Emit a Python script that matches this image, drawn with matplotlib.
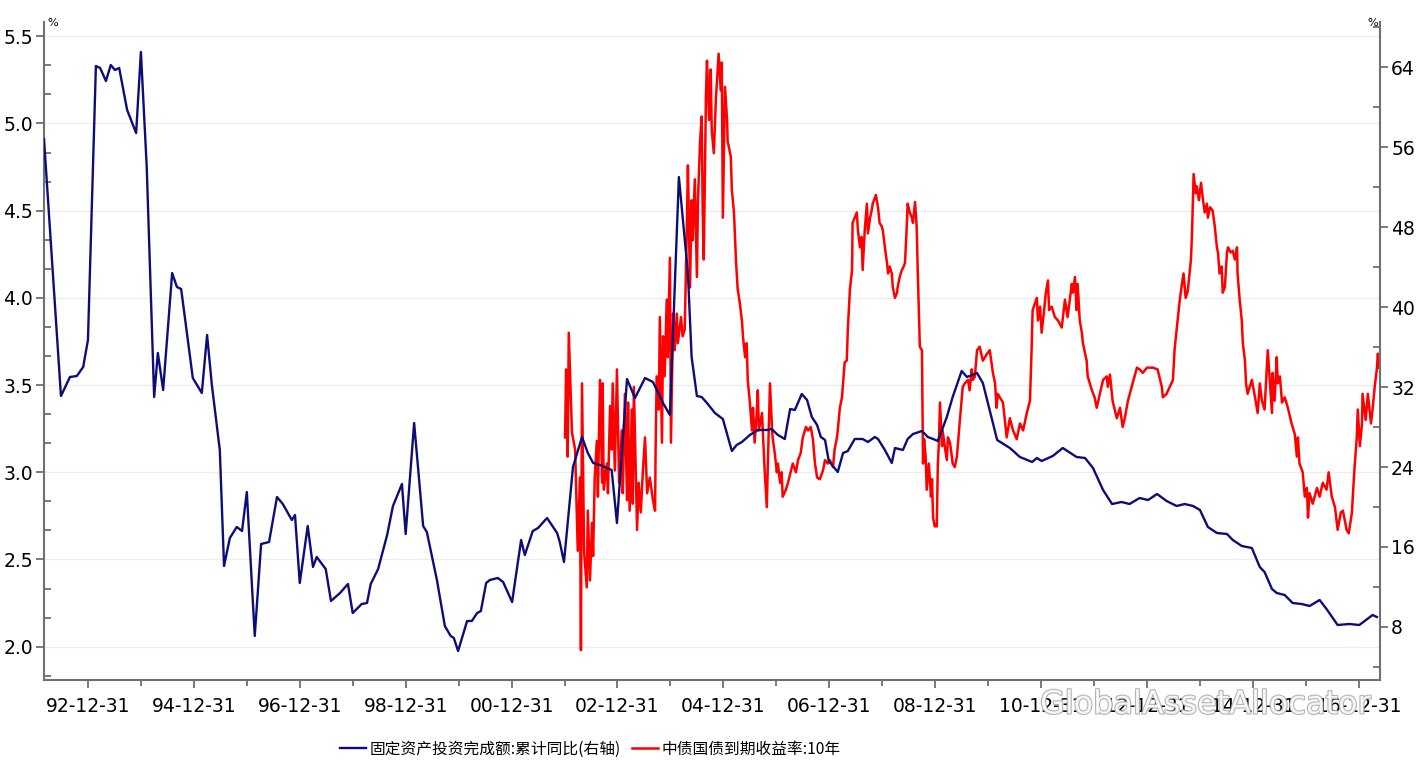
import matplotlib
matplotlib.use("Agg")
import matplotlib.pyplot as plt
from matplotlib.ticker import MultipleLocator, FixedLocator
import matplotlib.patheffects as pe

plt.rcParams['font.family'] = ['DejaVu Sans', 'Noto Sans CJK SC']

# ---- data (decimal years) ----
fai_t = [1992.17, 1992.49, 1992.66, 1992.79, 1992.91, 1993.00, 1993.15, 1993.23, 1993.34, 1993.43,
         1993.51, 1993.59, 1993.74, 1993.91, 1994.00, 1994.11, 1994.25, 1994.32, 1994.42, 1994.59,
         1994.68, 1994.76, 1994.98, 1995.15, 1995.25, 1995.34, 1995.49, 1995.57, 1995.68, 1995.81,
         1995.91, 1996.00, 1996.15, 1996.27, 1996.42, 1996.57, 1996.68, 1996.85, 1996.91, 1997.00,
         1997.15, 1997.25, 1997.32, 1997.49, 1997.59, 1997.76, 1997.91, 1998.00, 1998.17, 1998.27,
         1998.34, 1998.48, 1998.65, 1998.76, 1998.93, 1999.00, 1999.16, 1999.33, 1999.40, 1999.59,
         1999.74, 1999.85, 1999.91, 1999.99, 2000.16, 2000.25, 2000.35, 2000.42, 2000.52, 2000.59,
         2000.74, 2000.84, 2001.01, 2001.18, 2001.25, 2001.40, 2001.50, 2001.67, 2001.86, 2001.91,
         2001.99, 2002.16, 2002.33, 2002.44, 2002.54, 2002.67, 2002.89, 2002.99, 2003.18, 2003.33,
         2003.52, 2003.67, 2003.86, 2003.99, 2004.16, 2004.33, 2004.40, 2004.50, 2004.59, 2004.69,
         2004.84, 2004.99, 2005.16, 2005.25, 2005.35, 2005.50, 2005.65, 2005.82, 2005.91, 2006.03,
         2006.16, 2006.26, 2006.35, 2006.48, 2006.58, 2006.67, 2006.77, 2006.84, 2006.92, 2006.99,
         2007.16, 2007.26, 2007.35, 2007.48, 2007.63, 2007.73, 2007.86, 2007.92, 2008.05, 2008.18,
         2008.24, 2008.39, 2008.48, 2008.58, 2008.75, 2008.86, 2008.96, 2009.05, 2009.22, 2009.33,
         2009.50, 2009.60, 2009.79, 2009.90, 2010.17, 2010.41, 2010.60, 2010.83, 2010.92, 2011.01,
         2011.22, 2011.41, 2011.67, 2011.83, 2011.98, 2012.17, 2012.34, 2012.52, 2012.67, 2012.86,
         2013.02, 2013.19, 2013.37, 2013.56, 2013.71, 2013.87, 2014.00, 2014.15, 2014.32, 2014.51,
         2014.62, 2014.79, 2014.98, 2015.13, 2015.22, 2015.36, 2015.45, 2015.60, 2015.75, 2015.92,
         2016.07, 2016.26, 2016.39, 2016.60, 2016.82, 2017.01, 2017.11, 2017.26, 2017.34]
fai_v = [56.8, 31.1, 33.0, 33.1, 34.0, 36.7, 64.1, 63.9, 62.6, 64.2,
         63.7, 63.9, 59.7, 57.4, 65.5, 54.0, 31.0, 35.4, 31.7, 43.4,
         42.0, 41.8, 32.9, 31.4, 37.2, 32.2, 25.7, 14.1, 16.9, 18.0,
         17.6, 21.5, 7.1, 16.3, 16.5, 21.0, 20.3, 18.7, 19.2, 12.4,
         18.1, 14.0, 15.0, 13.8, 10.6, 11.4, 12.3, 9.4, 10.3, 10.4,
         12.3, 13.8, 17.2, 20.1, 22.3, 17.3, 28.4, 18.1, 17.5, 12.7,
         8.1, 7.1, 6.9, 5.6, 8.6, 8.6, 9.4, 9.6, 12.4, 12.7,
         12.9, 12.5, 10.5, 16.7, 15.2, 17.6, 17.9, 18.9, 17.4, 16.5,
         14.5, 24.0, 27.0, 25.4, 24.4, 24.2, 23.7, 18.4, 32.8, 30.9,
         32.9, 32.5, 30.4, 29.2, 53.0, 43.4, 35.0, 31.1, 31.0, 30.4,
         29.4, 28.8, 25.6, 26.2, 26.5, 27.2, 27.7, 27.7, 27.8, 27.2,
         26.8, 29.8, 29.7, 31.3, 30.7, 29.0, 28.2, 27.0, 26.7, 24.6,
         23.5, 25.4, 25.6, 26.8, 26.8, 26.5, 27.0, 26.8, 25.7, 24.4,
         25.9, 25.7, 26.8, 27.3, 27.6, 27.0, 26.8, 26.6, 29.0, 31.0,
         33.6, 33.0, 33.4, 32.4, 26.7, 25.9, 25.0, 24.5, 24.9, 24.6,
         25.1, 25.9, 25.0, 24.9, 23.9, 21.7, 20.3, 20.5, 20.3, 20.9,
         20.7, 21.3, 20.6, 20.1, 20.3, 20.1, 19.7, 18.0, 17.4, 17.3,
         16.7, 16.1, 15.9, 14.0, 13.5, 11.8, 11.4, 11.2, 10.4, 10.3,
         10.1, 10.7, 9.8, 8.2, 8.3, 8.2, 8.6, 9.2, 9.0]

cgb_t = [2002.01, 2002.03, 2002.06, 2002.08, 2002.14, 2002.20, 2002.25, 2002.29, 2002.31, 2002.33,
         2002.37, 2002.42, 2002.44, 2002.48, 2002.52, 2002.54, 2002.57, 2002.61, 2002.63, 2002.67,
         2002.71, 2002.72, 2002.74, 2002.80, 2002.82, 2002.86, 2002.89, 2002.91, 2002.95, 2002.99,
         2003.03, 2003.08, 2003.10, 2003.14, 2003.18, 2003.20, 2003.23, 2003.27, 2003.29, 2003.31,
         2003.37, 2003.40, 2003.44, 2003.48, 2003.52, 2003.56, 2003.61, 2003.67, 2003.71, 2003.72,
         2003.74, 2003.78, 2003.80, 2003.84, 2003.86, 2003.89, 2003.93, 2003.95, 2003.99, 2004.01,
         2004.05, 2004.08, 2004.12, 2004.14, 2004.20, 2004.23, 2004.27, 2004.31, 2004.33, 2004.37,
         2004.40, 2004.42, 2004.46, 2004.50, 2004.52, 2004.56, 2004.59, 2004.61, 2004.63, 2004.67,
         2004.69, 2004.73, 2004.76, 2004.78, 2004.82, 2004.86, 2004.88, 2004.91, 2004.95, 2004.97,
         2004.99, 2005.03, 2005.07, 2005.08, 2005.14, 2005.16, 2005.20, 2005.24, 2005.27, 2005.31,
         2005.35, 2005.37, 2005.41, 2005.44, 2005.46, 2005.50, 2005.54, 2005.56, 2005.59, 2005.63,
         2005.65, 2005.67, 2005.73, 2005.75, 2005.78, 2005.82, 2005.84, 2005.88, 2005.92, 2005.93,
         2005.97, 2006.01, 2006.03, 2006.07, 2006.10, 2006.12, 2006.18, 2006.22, 2006.27, 2006.31,
         2006.37, 2006.41, 2006.46, 2006.50, 2006.56, 2006.60, 2006.65, 2006.69, 2006.73, 2006.77,
         2006.82, 2006.88, 2006.92, 2006.97, 2007.01, 2007.07, 2007.10, 2007.14, 2007.16, 2007.20,
         2007.24, 2007.26, 2007.29, 2007.33, 2007.35, 2007.39, 2007.43, 2007.44, 2007.48, 2007.52,
         2007.54, 2007.58, 2007.61, 2007.63, 2007.67, 2007.71, 2007.73, 2007.77, 2007.80, 2007.82,
         2007.88, 2007.92, 2007.95, 2007.99, 2008.01, 2008.05, 2008.09, 2008.11, 2008.14, 2008.18,
         2008.20, 2008.24, 2008.28, 2008.29, 2008.33, 2008.37, 2008.39, 2008.43, 2008.46, 2008.48,
         2008.52, 2008.56, 2008.58, 2008.62, 2008.65, 2008.67, 2008.71, 2008.75, 2008.77, 2008.79,
         2008.82, 2008.84, 2008.88, 2008.92, 2008.94, 2008.96, 2008.99, 2009.03, 2009.05, 2009.07,
         2009.09, 2009.13, 2009.14, 2009.18, 2009.22, 2009.24, 2009.28, 2009.33, 2009.37, 2009.41,
         2009.45, 2009.52, 2009.56, 2009.62, 2009.65, 2009.69, 2009.71, 2009.75, 2009.79, 2009.84,
         2009.90, 2009.98, 2010.03, 2010.09, 2010.13, 2010.16, 2010.18, 2010.22, 2010.28, 2010.35,
         2010.41, 2010.47, 2010.54, 2010.60, 2010.66, 2010.73, 2010.79, 2010.82, 2010.84, 2010.92,
         2010.94, 2010.98, 2011.01, 2011.05, 2011.09, 2011.13, 2011.15, 2011.20, 2011.26, 2011.32,
         2011.39, 2011.45, 2011.50, 2011.58, 2011.60, 2011.64, 2011.67, 2011.69, 2011.73, 2011.77,
         2011.79, 2011.86, 2011.88, 2011.96, 2012.01, 2012.05, 2012.11, 2012.17, 2012.24, 2012.26,
         2012.30, 2012.35, 2012.43, 2012.49, 2012.54, 2012.58, 2012.64, 2012.71, 2012.81, 2012.86,
         2012.92, 2013.00, 2013.11, 2013.20, 2013.28, 2013.30, 2013.37, 2013.43, 2013.49, 2013.52,
         2013.56, 2013.62, 2013.66, 2013.69, 2013.73, 2013.77, 2013.83, 2013.85, 2013.88, 2013.92,
         2013.94, 2013.98, 2014.02, 2014.05, 2014.09, 2014.13, 2014.15, 2014.19, 2014.24, 2014.28,
         2014.32, 2014.34, 2014.37, 2014.41, 2014.43, 2014.47, 2014.51, 2014.53, 2014.58, 2014.62,
         2014.66, 2014.70, 2014.71, 2014.75, 2014.79, 2014.81, 2014.85, 2014.87, 2014.90, 2014.94,
         2014.98, 2015.04, 2015.09, 2015.13, 2015.17, 2015.22, 2015.28, 2015.36, 2015.37, 2015.41,
         2015.45, 2015.47, 2015.51, 2015.55, 2015.60, 2015.66, 2015.73, 2015.79, 2015.83, 2015.85,
         2015.88, 2015.94, 2015.98, 2016.02, 2016.04, 2016.07, 2016.13, 2016.21, 2016.26, 2016.32,
         2016.39, 2016.43, 2016.49, 2016.55, 2016.60, 2016.66, 2016.70, 2016.77, 2016.81, 2016.87,
         2016.89, 2016.92, 2016.96, 2016.98, 2017.02, 2017.06, 2017.07, 2017.13, 2017.17, 2017.23,
         2017.26, 2017.30, 2017.34, 2017.36, 2017.38]
cgb_v = [3.20, 3.59, 3.09, 3.80, 3.23, 3.13, 2.55, 2.97, 1.98, 3.51,
         2.54, 2.34, 2.78, 2.38, 2.71, 2.52, 2.97, 3.18, 2.86, 3.53,
         2.94, 3.51, 2.90, 3.05, 2.88, 3.38, 3.13, 3.51, 3.01, 3.59,
         2.94, 3.24, 2.88, 3.45, 2.84, 3.40, 2.78, 3.36, 2.82, 3.49,
         2.67, 2.94, 2.77, 3.01, 3.20, 2.88, 2.97, 2.84, 2.78, 3.13,
         3.55, 3.36, 3.89, 3.17, 3.78, 3.55, 3.99, 3.66, 4.23, 3.17,
         3.91, 3.70, 3.91, 3.74, 3.89, 3.78, 3.82, 4.41, 4.76, 4.06,
         4.56, 4.33, 4.68, 4.12, 4.56, 4.90, 5.04, 4.49, 4.22, 5.15,
         5.36, 5.02, 5.31, 4.96, 4.83, 5.15, 5.25, 5.40, 5.19, 5.35,
         4.46, 5.21, 5.02, 4.90, 4.81, 4.62, 4.49, 4.20, 4.05, 3.97,
         3.87, 3.78, 3.66, 3.74, 3.53, 3.40, 3.24, 3.37, 3.17, 3.34,
         3.47, 3.24, 3.34, 3.20, 3.01, 2.80, 3.05, 3.51, 3.24, 3.20,
         3.11, 3.00, 3.05, 2.94, 3.00, 2.86, 2.90, 2.94, 3.00, 3.05,
         3.00, 3.07, 3.11, 3.20, 3.26, 3.24, 3.26, 3.19, 3.05, 2.97,
         2.96, 3.01, 3.07, 3.05, 3.07, 3.03, 3.13, 3.19, 3.24, 3.37,
         3.43, 3.51, 3.63, 3.64, 3.82, 4.05, 4.16, 4.43, 4.46, 4.49,
         4.39, 4.29, 4.35, 4.16, 4.39, 4.54, 4.37, 4.46, 4.50, 4.54,
         4.59, 4.52, 4.43, 4.41, 4.39, 4.29, 4.20, 4.14, 4.18, 4.14,
         4.06, 4.00, 4.03, 4.06, 4.12, 4.16, 4.17, 4.20, 4.39, 4.54,
         4.49, 4.46, 4.43, 4.55, 4.41, 4.16, 3.72, 3.70, 3.05, 3.19,
         3.09, 2.90, 3.05, 2.86, 2.96, 2.74, 2.69, 2.69, 3.05, 3.17,
         3.40, 3.15, 3.24, 3.15, 3.07, 3.20, 3.17, 3.05, 3.03, 3.09,
         3.24, 3.49, 3.51, 3.53, 3.47, 3.59, 3.53, 3.55, 3.70, 3.72,
         3.64, 3.68, 3.70, 3.57, 3.51, 3.37, 3.45, 3.43, 3.40, 3.20,
         3.31, 3.24, 3.19, 3.28, 3.24, 3.34, 3.41, 3.70, 3.93, 4.00,
         3.87, 3.95, 3.80, 3.91, 4.03, 4.10, 3.93, 3.95, 3.89, 3.87,
         3.83, 3.99, 3.89, 4.08, 4.03, 4.12, 3.93, 4.08, 3.87, 3.80,
         3.74, 3.64, 3.55, 3.47, 3.43, 3.37, 3.45, 3.53, 3.55, 3.49,
         3.56, 3.41, 3.31, 3.37, 3.26, 3.31, 3.41, 3.49, 3.60, 3.59,
         3.57, 3.60, 3.60, 3.59, 3.49, 3.43, 3.45, 3.49, 3.53, 3.70,
         3.82, 3.99, 4.08, 4.14, 4.00, 4.04, 4.22, 4.37, 4.71, 4.60,
         4.64, 4.56, 4.66, 4.58, 4.49, 4.54, 4.46, 4.52, 4.50, 4.41,
         4.29, 4.26, 4.14, 4.18, 4.03, 4.06, 4.26, 4.29, 4.26, 4.27,
         4.22, 4.29, 4.14, 3.99, 3.87, 3.74, 3.64, 3.51, 3.45, 3.49,
         3.53, 3.43, 3.34, 3.51, 3.41, 3.36, 3.70, 3.34, 3.57, 3.41,
         3.66, 3.51, 3.55, 3.40, 3.43, 3.37, 3.28, 3.22, 3.09, 3.20,
         3.05, 3.00, 2.86, 2.91, 2.74, 2.88, 2.82, 2.91, 2.86, 2.94,
         2.90, 3.00, 2.86, 2.80, 2.67, 2.77, 2.78, 2.67, 2.65, 2.77,
         2.88, 3.03, 3.19, 3.36, 3.15, 3.28, 3.45, 3.30, 3.45, 3.28,
         3.36, 3.49, 3.59, 3.68, 3.60]

xtick_years = [1993, 1995, 1997, 1999, 2001, 2003, 2005, 2007, 2009, 2011, 2013, 2015, 2017]
xtick_labels = ['92-12-31', '94-12-31', '96-12-31', '98-12-31', '00-12-31', '02-12-31',
                '04-12-31', '06-12-31', '08-12-31', '10-12-31', '12-12-31', '14-12-31', '16-12-31']
minor_years = [1994, 1996, 1998, 2000, 2002, 2004, 2006, 2008, 2010, 2012, 2014, 2016]
left_ticks = [2.0, 2.5, 3.0, 3.5, 4.0, 4.5, 5.0, 5.5]
right_ticks = [8, 16, 24, 32, 40, 48, 56, 64]

label_fai = '固定资产投资完成额:累计同比(右轴)'
label_cgb = '中债国债到期收益率:10年'

NAVY = '#0d0d7a'
RED = '#ff0000'
SPINE = '#707070'

fig = plt.figure(figsize=(14.24, 7.62), dpi=100)
ax = fig.add_axes([44 / 1424, 1 - 680 / 762, (1380 - 44) / 1424, (680 - 22) / 762])
ax2 = ax.twinx()

l_red, = ax.plot(cgb_t, cgb_v, color=RED, lw=1.8, zorder=2)
l_navy, = ax2.plot(fai_t, fai_v, color=NAVY, lw=1.7, zorder=3)

ax.set_xlim(1992.17, 2017.40)
ax.set_ylim(1.809, 5.582)
ax2.set_ylim(2.7, 68.5)

ax.set_xticks(xtick_years)
ax.set_xticklabels(xtick_labels)
ax.xaxis.set_minor_locator(FixedLocator(minor_years))
ax.set_yticks(left_ticks)
ax.set_yticklabels([f'{v:.1f}' for v in left_ticks])
ax.yaxis.set_minor_locator(MultipleLocator(0.5 / 3))
ax2.set_yticks(right_ticks)
ax2.set_yticklabels([str(v) for v in right_ticks])
ax2.yaxis.set_minor_locator(MultipleLocator(4))

ax.yaxis.grid(True, which='major', color='#ececec', lw=0.9)
ax.set_axisbelow(True)

for a in (ax, ax2):
    a.spines['top'].set_visible(False)
    for s in a.spines.values():
        s.set_color(SPINE)
        s.set_linewidth(1.5)
ax.spines['right'].set_visible(False)
ax2.spines['left'].set_visible(False)
ax2.spines['bottom'].set_visible(False)

ax.tick_params(axis='x', which='major', direction='out', length=6, width=1.3, color=SPINE,
               labelsize=13.5, pad=6)
ax.tick_params(axis='x', which='minor', direction='out', length=4, width=1.3, color=SPINE)
ax.tick_params(axis='y', which='major', direction='out', length=6, width=1.3, color=SPINE,
               labelsize=13.5, pad=2)
ax.tick_params(axis='y', which='minor', direction='in', length=5, width=1.3, color=SPINE)
ax2.tick_params(axis='y', which='major', direction='out', length=6, width=1.3, color=SPINE,
                labelsize=13.5, pad=2)
ax2.tick_params(axis='y', which='minor', direction='in', length=5, width=1.3, color=SPINE)

fig.text(47 / 1424, 1 - 23 / 762, '%', fontsize=8, ha='left', va='center')
fig.text(1378 / 1424, 1 - 23 / 762, '%', fontsize=8, ha='right', va='center')

fig.legend([l_navy, l_red], [label_fai, label_cgb], loc='center',
           bbox_to_anchor=(590 / 1424, 1 - 749 / 762), ncol=2, frameon=False,
           handlelength=1.7, handletextpad=0.2, columnspacing=0.7,
           prop={'family': ['Noto Sans CJK SC', 'DejaVu Sans'], 'size': 11.3})

wm = fig.text(1040 / 1424, 1 - 705 / 762, 'GlobalAssetAllocator', fontsize=23,
              color='white', alpha=0.85, ha='left', va='center', zorder=10)
wm.set_path_effects([pe.Stroke(linewidth=1.6, foreground='#a8a8a8'), pe.Normal()])

fig.savefig('out.png', dpi=100)
